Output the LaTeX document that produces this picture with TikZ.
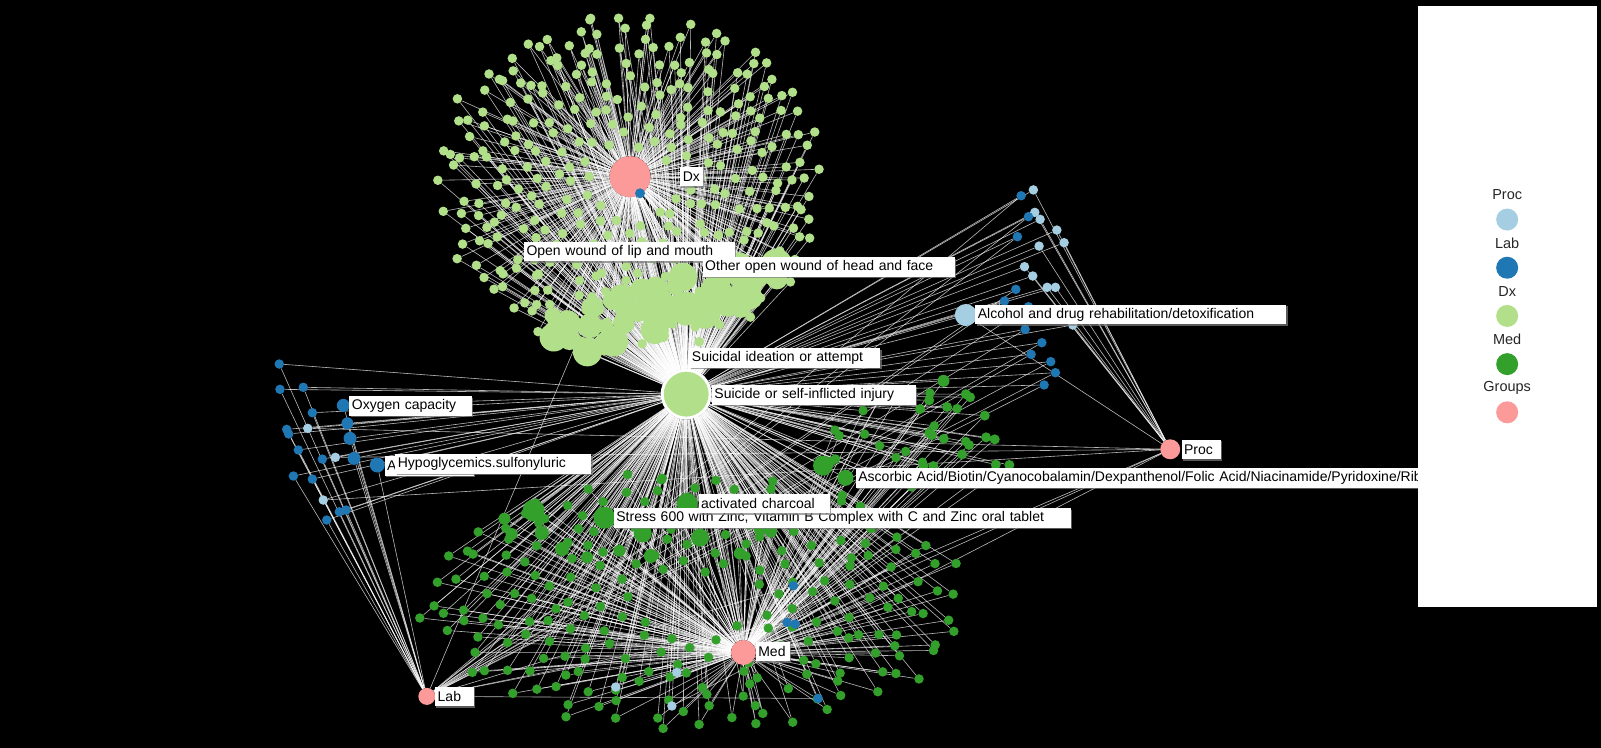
\documentclass[tikz,border=0pt]{standalone}
\usepackage{fontspec}
\setmainfont{Liberation Sans}
\usetikzlibrary{shadows}
\definecolor{procC}{HTML}{A6CEE3}
\definecolor{labC}{HTML}{1F78B4}
\definecolor{dxC}{HTML}{B2DF8A}
\definecolor{medC}{HTML}{33A02C}
\definecolor{grpC}{HTML}{FB9A99}
\pgfdeclarelayer{bg}
\pgfdeclarelayer{links}
\pgfdeclarelayer{labels}
\pgfsetlayers{bg,links,main,labels}

\begin{document}
\begin{tikzpicture}[x=1.0211pt,y=-1.0211pt,
  dot/.style={circle,inner sep=0pt,minimum size=#1},
  dot/.default=9.5pt,
  dxdot/.style={dot=#1,fill=dxC}, dxdot/.default=9.5pt,
  meddot/.style={dot=#1,fill=medC}, meddot/.default=9.5pt,
  hub/.style={dot=#1,fill=grpC},
  link/.style={white,line width=0.6pt,opacity=0.72},
  lbl/.style={fill=white,anchor=west,inner xsep=2.5pt,inner ysep=0pt,
    minimum height=19.5pt,align=left,font=\fontsize{14}{16}\selectfont,
    drop shadow={shadow xshift=1.2pt,shadow yshift=-1.5pt,fill=gray,opacity=0.7}},
  ]
\useasboundingbox (0,0) rectangle (1567.9,732.5);
\begin{pgfonlayer}{bg}
\fill[black] (0,0) rectangle (1567.9,732.5);
\end{pgfonlayer}

% hubs
\node[hub=41pt] (dxhub) at (617,173) {};
\node[hub=20pt] (prochub) at (1146,440) {};
\node[hub=17pt] (labhub) at (418,682) {};

\pgfmathsetseed{20}
% Dx group
\foreach \i in {1,...,340}{
  \pgfmathsetmacro\turn{0.381966*\i}
  \pgfmathsetmacro\ang{360*(\turn-floor(\turn))+10*(rnd-0.5)}
  \pgfmathsetmacro\rad{sqrt(0.04+0.96*(\i-0.5)/340)*(1+0.05*(rnd-0.5))}
  \node[dxdot] (dx\i) at ({618+190*\rad*cos(\ang)+5*(rnd-0.5)},{178+168*\rad*sin(\ang)+5*(rnd-0.5)}) {};
}
\foreach \i in {1,...,55}{
  \pgfmathsetmacro\t{rnd}
  \pgfmathsetmacro\bx{540+225*\t+26*(rnd-0.5)}
  \pgfmathsetmacro\by{328-55*\t+48*(rnd-0.5)}
  \pgfmathsetmacro\bs{15+16*rnd}
  \node[dxdot=\bs pt] (bl\i) at (\bx,\by) {};
}
% Med group
\foreach \i in {1,...,230}{
  \pgfmathsetmacro\turn{0.381966*\i}
  \pgfmathsetmacro\ang{360*(\turn-floor(\turn))+10*(rnd-0.5)}
  \pgfmathsetmacro\rad{sqrt(0.05+0.95*(\i-0.5)/230)*(1+0.05*(rnd-0.5))}
  \node[meddot] (md\i) at ({680+268*\rad*cos(\ang)+5*(rnd-0.5)},{590+128*\rad*sin(\ang)+5*(rnd-0.5)}) {};
}
\foreach \i in {1,...,20}{
  \pgfmathsetmacro\ang{360*rnd}
  \pgfmathsetmacro\rad{sqrt(rnd)}
  \node[meddot] (mr\i) at ({880+75*\rad*cos(\ang)},{430+50*\rad*sin(\ang)}) {};
}
\def\medbig{522.6/500/22, 592/507/22, 673/493/21, 494/508/12, 530.6/522/14,
  501/523/12, 550.5/537.7/14, 575/545.8/12, 606.6/539.3/12, 629.5/522.3/18,
  637.4/544.5/14, 685.6/526.6/18, 724.4/542/12, 744.3/519/12, 755/520.7/12,
  806/456/20, 828/468/16, 757/505/14, 924/373/12, 910/392/10, 901/400.6/10,
  927.5/398.6/10, 945.8/386/10, 950/389/10, 964.4/407/10, 910/424/10,
  912.5/426/10, 924.3/429.7/10, 949/435.8/10, 965.7/428.3/10, 974.2/430.3/10,
  942.2/445/10, 975.2/455/10, 988.5/455.4/10, 904.3/456.4/10, 914/456.4/10}
\foreach \x/\y/\s [count=\k] in \medbig
  \node[meddot=\s pt] (mb\k) at (\x,\y) {};
\node[hub=25pt] (medhub) at (728,639) {};
% Lab and Proc
\def\lplist{273.5/356.5/9.5/labC/labhub, 274.2/381.3/9.5/labC/labhub,
  297/379.3/9.5/labC/labhub, 305.9/404.2/9.5/labC/labhub,
  280.8/420.5/9.5/labC/labhub, 282.7/425/9.5/labC/labhub,
  292.2/440.7/9.5/labC/labhub, 315.7/449.6/9.5/labC/labhub,
  287.3/466.2/9.5/labC/labhub, 305.9/469.2/9.5/labC/labhub,
  332.3/501.2/9.5/labC/labhub, 338.9/499.5/9.5/labC/labhub,
  320/509.3/9.5/labC/labhub, 336.2/397/13/labC/labhub,
  340.2/414.6/12/labC/labhub, 342.8/429.3/13/labC/labhub,
  346.7/448.9/13/labC/labhub, 369.5/455.4/15/labC/labhub,
  301.4/419.5/9.5/procC/prochub, 328.4/447.9/9.5/procC/prochub,
  316.6/489.7/9.5/procC/prochub,
  1012/186/9.5/procC/prochub, 1013.4/208/9.5/procC/prochub,
  1018.6/214.8/9.5/procC/prochub, 1035/225.3/9.5/procC/prochub,
  1042.1/237.7/9.5/procC/prochub, 1017.6/241/9.5/procC/prochub,
  1003.3/261.2/9.5/procC/prochub, 1011.4/270.3/9.5/procC/prochub,
  1025.5/281.4/9.5/procC/prochub, 1033.6/281.4/9.5/procC/prochub,
  1050.6/318.3/9.5/procC/prochub,
  1000/191.7/9.5/labC/labhub, 1007.2/212.2/9.5/labC/labhub,
  996.4/231.8/9.5/labC/labhub, 994.8/283.4/9.5/labC/labhub,
  983.7/294.8/9.5/labC/labhub, 1007.2/300.4/9.5/labC/labhub,
  1003.9/322.5/9.5/labC/labhub, 1020.3/335.6/9.5/labC/labhub,
  1009.8/347/9.5/labC/labhub, 1029/354.2/9.5/labC/labhub,
  1033.6/365/9.5/labC/labhub, 1022.5/377/9.5/labC/labhub,
  945.8/308.5/22/procC/prochub, 626.8/189.3/10/labC/labhub,
  777/573.6/9.5/labC/labhub, 770.8/609.5/9.5/labC/labhub,
  778.7/611.2/9.5/labC/labhub, 801.2/684/9.5/labC/labhub,
  662.8/658.5/9.5/procC/prochub, 603/672.8/9.5/procC/prochub,
  658/691.4/9.5/procC/prochub}
\foreach \x/\y/\s/\c/\h [count=\k] in \lplist
  \node[dot=\s pt,fill=\c] (lp\k) at (\x,\y) {};

\node[dot=48pt,fill=dxC,draw=white,line width=3pt] (cen) at (672,386) {};

\begin{pgfonlayer}{links}
\foreach \i in {1,...,340} \draw[link] (dxhub) -- (dx\i) (cen) -- (dx\i);
\foreach \i in {1,...,55} \draw[link] (dxhub) -- (bl\i) (cen) -- (bl\i);
\foreach \i in {1,...,230} \draw[link] (medhub) -- (md\i) (cen) -- (md\i);
\foreach \i in {1,...,20} \draw[link] (medhub) -- (mr\i) (cen) -- (mr\i);
\foreach \x/\y/\s [count=\k] in \medbig
  \draw[link] (medhub) -- (mb\k) (cen) -- (mb\k);
\foreach \x/\y/\s/\c/\h [count=\k] in \lplist
  \draw[link] (\h) -- (lp\k) (cen) -- (lp\k);
\end{pgfonlayer}

\begin{pgfonlayer}{labels}
\node[lbl,text width=17.5pt] (lDx) at (666,173) {Dx};
\node[lbl,text width=206pt] (lLip) at (513,246.5) {Open wound of lip and mouth};
\node[lbl,text width=247pt] (lHead) at (688,261.5) {Other open wound of head and face};
\node[lbl,text width=306pt] (lAlc) at (955,308) {Alcohol and drug rehabilitation/detoxification};
\node[lbl,text width=186pt] (lIdea) at (675,350.5) {Suicidal ideation or attempt};
\node[lbl,text width=199pt] (lCen) at (697,387) {Suicide or self-inflicted injury};
\node[lbl,text width=117.5pt] (lOxy) at (342,397.5) {Oxygen capacity};
\node[lbl,text width=84pt] (lA) at (376.5,456.5) {A};
\node[lbl,text width=191pt] (lHypo) at (387,454.6) {Hypoglycemics.sulfonyluric};
\node[lbl,text width=34pt] (lProc) at (1157,440) {Proc};
\node[lbl,text width=600pt] (lAsc) at (838,468) {\mbox{Ascorbic Acid/Biotin/Cyanocobalamin/Dexpanthenol/Folic Acid/Niacinamide/Pyridoxine/Riboflavin}};
\node[lbl,text width=452pt] (lStress) at (601,507.5) {Stress 600 with Zinc, Vitamin B Complex with C and Zinc oral tablet};
\node[lbl,text width=126pt] (lChar) at (684,493) {activated charcoal};
\node[lbl,text width=29pt] (lMed) at (740,638) {Med};
\node[lbl,text width=34pt] (lLab) at (426,682) {Lab};
% legend
\fill[white] (1389,6) rectangle (1564,594);
\foreach \t/\c [count=\k from 0] in {Proc/procC,Lab/labC,Dx/dxC,Med/medC,Groups/grpC}{
  \node[font=\fontsize{14.5}{16}\selectfont,text=black!85] (key\k) at (1476,{191+47.2*\k}) {\t};
  \node[dot=22pt,fill=\c] (sw\k) at (1476,{215+47.2*\k}) {};
}
\end{pgfonlayer}
\end{tikzpicture}
\end{document}
